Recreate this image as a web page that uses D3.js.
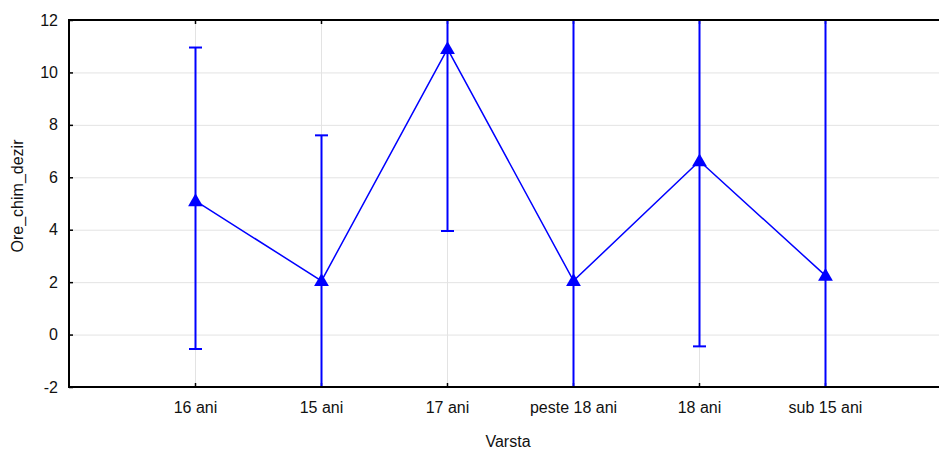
<!DOCTYPE html>
<html>
<head>
<meta charset="utf-8">
<script src="https://cdn.jsdelivr.net/npm/d3@7"></script>
<style>
	body { margin: 0; background: #fff; overflow: hidden; }
	svg { display: block; font-family: 'Liberation Sans', Arial, sans-serif; }
</style>
</head>
<body>
<div id="chart"></div>
<script>
var categories = ['16 ani', '15 ani', '17 ani', 'peste 18 ani', '18 ani', 'sub 15 ani'];
var means = [5.1, 2.05, 10.9, 2.05, 6.62, 2.25];
var lower = [-0.55, -3.5, 3.95, -9, -0.45, -9];
var upper = [10.95, 7.6, 17.85, 13, 13.7, 13.5];
var yTicks = [-2, 0, 2, 4, 6, 8, 10, 12];

(function() {
	var width = 939,
		height = 452,
		left = 69,
		top = 20,
		bottom = 387,
		right = 951,
		fontSize = '16px';

	var svg = d3.select('#chart').append('svg')
		.attr('width', width)
		.attr('height', height);

	var x = d3.scalePoint()
		.domain(categories)
		.range([left, right])
		.padding(1);
	var y = d3.scaleLinear()
		.domain([-2, 12])
		.range([bottom, top]);

	svg.append('defs').append('clipPath').attr('id', 'plot')
		.append('rect')
		.attr('x', left).attr('y', top)
		.attr('width', right - left).attr('height', bottom - top);

	// grid
	var grid = svg.append('g').attr('stroke', '#e3e3e3').attr('stroke-width', 1);
	grid.selectAll('.hg').data(yTicks).enter().append('line')
		.attr('x1', left).attr('x2', right)
		.attr('y1', function(d) { return y(d) + 0.5; })
		.attr('y2', function(d) { return y(d) + 0.5; });
	grid.selectAll('.vg').data(categories).enter().append('line')
		.attr('y1', top).attr('y2', bottom)
		.attr('x1', function(d) { return x(d) + 0.5; })
		.attr('x2', function(d) { return x(d) + 0.5; });

	// axis labels
	var yAxis = d3.axisLeft(y).tickValues(yTicks).tickSize(0).tickPadding(11)
		.tickFormat(function(d) { return String(d); });
	var yg = svg.append('g').attr('transform', 'translate(' + left + ',0)').call(yAxis);
	yg.select('.domain').remove();
	yg.selectAll('text').style('font-size', fontSize).attr('fill', '#111').style('font-family', 'Liberation Sans, Arial, sans-serif');

	var xAxis = d3.axisBottom(x).tickSize(0).tickPadding(15);
	var xg = svg.append('g').attr('transform', 'translate(0,' + bottom + ')').call(xAxis);
	xg.select('.domain').remove();
	xg.selectAll('text').style('font-size', fontSize).attr('fill', '#111').style('font-family', 'Liberation Sans, Arial, sans-serif');

	// small inward ticks
	var ticks = svg.append('g').attr('stroke', '#000').attr('stroke-width', 1.5);
	ticks.selectAll('.yt').data(yTicks).enter().append('line')
		.attr('x1', left).attr('x2', left + 4)
		.attr('y1', function(d) { return y(d) + 0.5; })
		.attr('y2', function(d) { return y(d) + 0.5; });
	ticks.selectAll('.xb').data(categories).enter().append('line')
		.attr('y1', bottom).attr('y2', bottom - 4)
		.attr('x1', function(d) { return x(d) + 0.5; })
		.attr('x2', function(d) { return x(d) + 0.5; });
	ticks.selectAll('.xt').data(categories).enter().append('line')
		.attr('y1', top).attr('y2', top + 4)
		.attr('x1', function(d) { return x(d) + 0.5; })
		.attr('x2', function(d) { return x(d) + 0.5; });

	// data
	var blue = '#0000ff';
	var plot = svg.append('g').attr('clip-path', 'url(#plot)');
	var pts = categories.map(function(c, i) {
		return { c: c, m: means[i], lo: lower[i], hi: upper[i] };
	});

	plot.selectAll('.eb').data(pts).enter().append('line')
		.attr('x1', function(d) { return x(d.c) + 0.5; })
		.attr('x2', function(d) { return x(d.c) + 0.5; })
		.attr('y1', function(d) { return y(d.lo); })
		.attr('y2', function(d) { return y(d.hi); })
		.attr('stroke', blue).attr('stroke-width', 2);
	var caps = [];
	pts.forEach(function(d) { caps.push({ c: d.c, v: d.lo }); caps.push({ c: d.c, v: d.hi }); });
	plot.selectAll('.cap').data(caps).enter().append('line')
		.attr('x1', function(d) { return x(d.c) - 6; })
		.attr('x2', function(d) { return x(d.c) + 7; })
		.attr('y1', function(d) { return y(d.v); })
		.attr('y2', function(d) { return y(d.v); })
		.attr('stroke', blue).attr('stroke-width', 2);

	var line = d3.line()
		.x(function(d) { return x(d.c) + 0.5; })
		.y(function(d) { return y(d.m); });
	plot.append('path').datum(pts)
		.attr('d', line)
		.attr('fill', 'none')
		.attr('stroke', blue)
		.attr('stroke-width', 1.5);

	var tri = d3.symbol().type(d3.symbolTriangle).size(95);
	plot.selectAll('.pt').data(pts).enter().append('path')
		.attr('d', tri)
		.attr('transform', function(d) { return 'translate(' + (x(d.c) + 0.5) + ',' + (y(d.m) + 1) + ')'; })
		.attr('fill', blue);

	// frame lines
	svg.append('line').attr('x1', left).attr('x2', left).attr('y1', top).attr('y2', bottom + 1)
		.attr('stroke', '#000').attr('stroke-width', 2);
	svg.append('line').attr('x1', left - 1).attr('x2', width).attr('y1', bottom).attr('y2', bottom)
		.attr('stroke', '#000').attr('stroke-width', 2);
	svg.append('line').attr('x1', left - 1).attr('x2', width).attr('y1', top).attr('y2', top)
		.attr('stroke', '#000').attr('stroke-width', 2);

	// titles
	svg.append('text')
		.attr('transform', 'translate(23,196) rotate(-90)')
		.attr('text-anchor', 'middle')
		.style('font-size', fontSize).attr('fill', '#111')
		.text('Ore_chim_dezir');
	svg.append('text')
		.attr('x', 508).attr('y', 447)
		.attr('text-anchor', 'middle')
		.style('font-size', fontSize).attr('fill', '#111')
		.text('Varsta');
})();
</script>
</body>
</html>
